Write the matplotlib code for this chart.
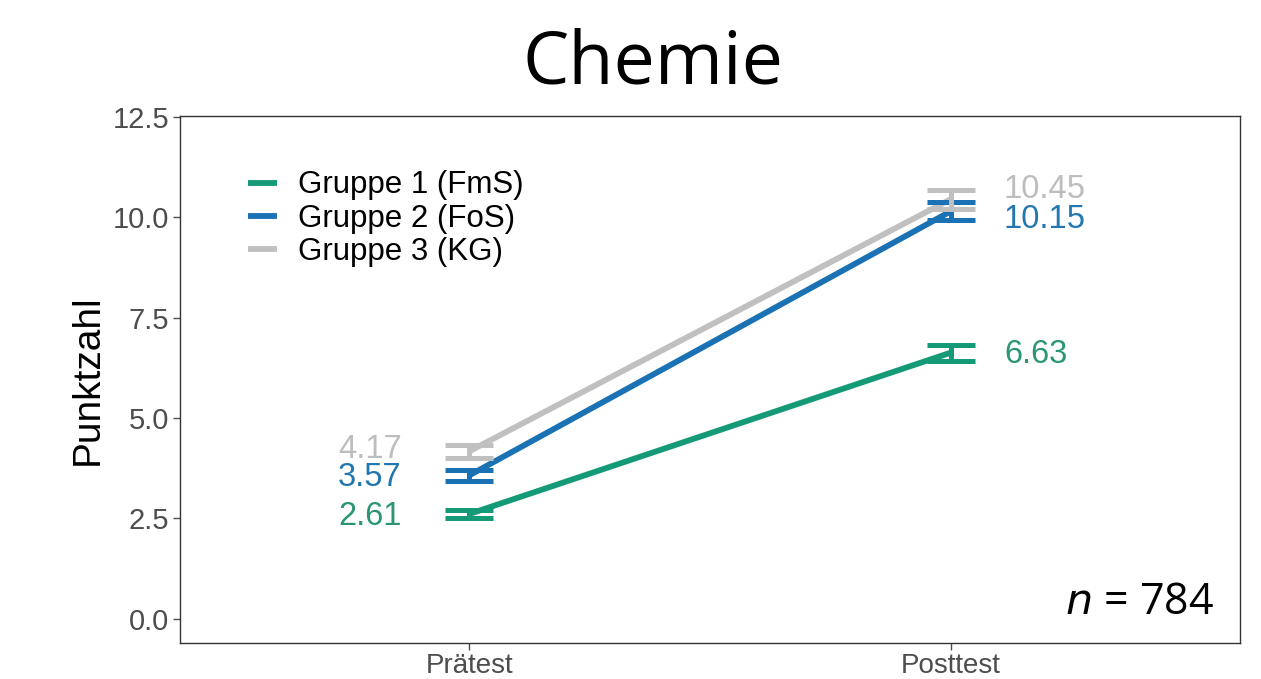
import matplotlib

matplotlib.use("Agg")
import matplotlib.pyplot as plt

# Data
tests = ["Prätest", "Posttest"]
groups = ["Gruppe 1 (FmS)", "Gruppe 2 (FoS)", "Gruppe 3 (KG)"]
means = {
    "Gruppe 1 (FmS)": [2.61, 6.63],
    "Gruppe 2 (FoS)": [3.57, 10.15],
    "Gruppe 3 (KG)": [4.17, 10.45],
}
errors = {
    "Gruppe 1 (FmS)": [0.10, 0.20],
    "Gruppe 2 (FoS)": [0.14, 0.22],
    "Gruppe 3 (KG)": [0.17, 0.24],
}
line_colors = {
    "Gruppe 1 (FmS)": "#159a77",
    "Gruppe 2 (FoS)": "#1a72b4",
    "Gruppe 3 (KG)": "#c0c0c0",
}
text_colors = {
    "Gruppe 1 (FmS)": "#2a9676",
    "Gruppe 2 (FoS)": "#2277b0",
    "Gruppe 3 (KG)": "#bdbdbd",
}
# small label nudges so that close labels do not sit on each other
label_nudge = {
    "Gruppe 1 (FmS)": [-0.07, -0.06],
    "Gruppe 2 (FoS)": [-0.06, -0.21],
    "Gruppe 3 (KG)": [0.04, 0.25],
}

fig = plt.figure(figsize=(12.61, 6.79), dpi=100)
ax = fig.add_axes([180 / 1261, 1 - 643 / 679, 1060 / 1261, 527 / 679])

x = [1, 2]
for g in groups:
    ax.plot(x, means[g], color=line_colors[g], lw=4.2, solid_capstyle="butt",
            label=g, zorder=2)
    ax.errorbar(x, means[g], yerr=errors[g], fmt="none", ecolor=line_colors[g],
                elinewidth=3.6, capsize=17, capthick=3.6, zorder=3)
    ax.text(0.86, means[g][0] + label_nudge[g][0], f"{means[g][0]:.2f}",
            color=text_colors[g], fontsize=23.5, family="Liberation Sans",
            ha="right", va="center")
    ax.text(2.11, means[g][1] + label_nudge[g][1], f"{means[g][1]:.2f}",
            color=text_colors[g], fontsize=23.5, family="Liberation Sans",
            ha="left", va="center")

ax.set_xlim(0.4, 2.6)
ax.set_ylim(-0.6, 12.52)
ax.set_xticks(x)
ax.set_xticklabels(tests)
ax.set_yticks([0, 2.5, 5, 7.5, 10, 12.5])
ax.set_yticklabels(["0.0", "2.5", "5.0", "7.5", "10.0", "12.5"])
ax.tick_params(labelsize=21, colors="#4d4d4d", length=5, width=1, pad=3)
ax.tick_params(axis="x", labelsize=20, pad=2)
for lab in ax.get_xticklabels() + ax.get_yticklabels():
    lab.set_family("Liberation Sans")
for sp in ax.spines.values():
    sp.set_color("#333333")
    sp.set_linewidth(1)

ax.set_ylabel("Punktzahl", fontsize=28, family="Liberation Sans", labelpad=5)

leg = ax.legend(loc="upper left", bbox_to_anchor=(0.038, 0.95), frameon=False,
                prop={"family": "Liberation Sans", "size": 22.5},
                handlelength=0.9, handletextpad=0.7, labelspacing=0.1)

fig.text(0.518, 0.905, "Chemie", fontsize=53, family="Open Sans", ha="center",
         va="center")
ax.text(0.976, 0.055, r"$\it{n}$ = 784", transform=ax.transAxes, fontsize=31,
        family="Open Sans", ha="right", va="baseline")

fig.savefig("out.png", dpi=100)
